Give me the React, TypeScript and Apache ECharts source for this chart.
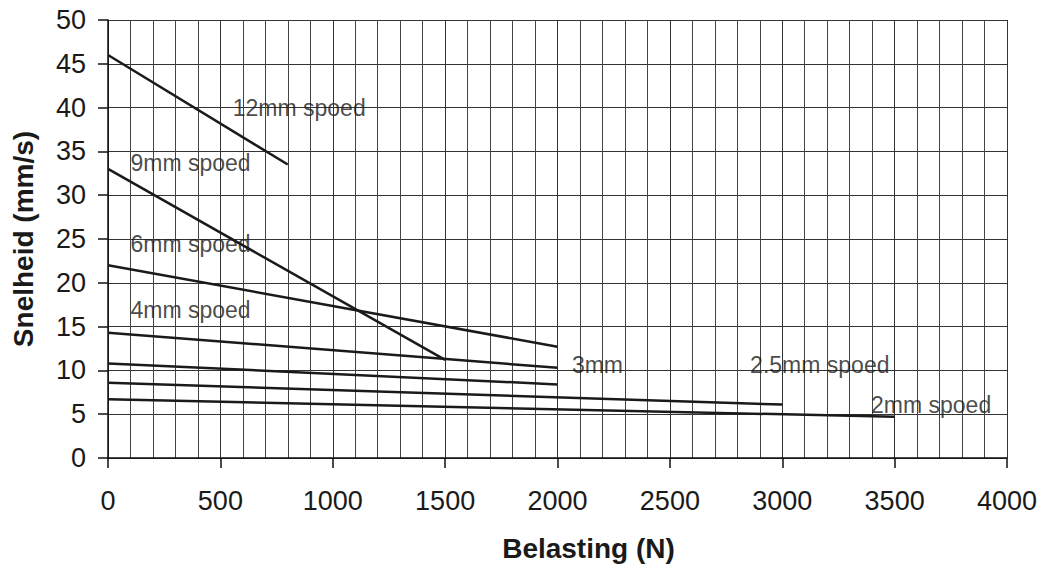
import React, { useEffect, useRef } from "react";
import * as echarts from "echarts";

const seriesNames = ["12mm", "9mm", "6mm", "4mm", "3mm", "2.5mm", "2mm"];
const seriesLoads = [
  [0, 800],
  [0, 1500],
  [0, 2000],
  [0, 2000],
  [0, 2000],
  [0, 3000],
  [0, 3500],
];
const seriesSpeeds = [
  [46, 33.5],
  [33, 11.2],
  [22, 12.7],
  [14.3, 10.3],
  [10.8, 8.4],
  [8.6, 6.1],
  [6.7, 4.7],
];

const labelTexts = ["12mm spoed", "9mm spoed", "6mm spoed", "4mm spoed", "3mm", "2.5mm spoed", "2mm spoed"];
const labelX = [555, 100, 100, 100, 2064, 2857, 3395];
const labelY = [40.0, 33.7, 24.4, 16.9, 10.6, 10.6, 6.05];

const FONT = "'Liberation Sans', Arial, Helvetica, sans-serif";

export default function App() {
  const ref = useRef<HTMLDivElement>(null);
  useEffect(() => {
    if (!ref.current) return;
    const chart = echarts.init(ref.current, undefined, { renderer: "svg" });
    const lineSeries = seriesNames.map((name, i) => ({
      name,
      type: "line",
      data: seriesLoads[i].map((x, j) => [x, seriesSpeeds[i][j]]),
      symbol: "none",
      lineStyle: { color: "#1a1a1a", width: 2.5 },
      z: 5,
    }));
    chart.setOption({
      animation: false,
      backgroundColor: "#ffffff",
      textStyle: { fontFamily: FONT },
      grid: { left: 108, right: 37, top: 20, bottom: 110, containLabel: false },
      xAxis: {
        type: "value",
        min: 0,
        max: 4000,
        interval: 500,
        name: "Belasting (N)",
        nameLocation: "middle",
        nameGap: 76,
        nameTextStyle: {
          fontSize: 28,
          fontWeight: "bold",
          color: "#1a1a1a",
          fontFamily: FONT,
          padding: [0, 0, 0, 62],
        },
        axisLine: { show: true, lineStyle: { color: "#111", width: 1.5 } },
        axisTick: { show: true, length: 10, lineStyle: { color: "#111", width: 1.5 } },
        axisLabel: {
          fontSize: 27,
          color: "#1a1a1a",
          margin: 29,
          fontFamily: FONT,
          formatter: (v: number) => String(v),
        },
        splitLine: { show: true, lineStyle: { color: "#333", width: 1 } },
        minorTick: { show: false, splitNumber: 5 },
        minorSplitLine: { show: true, lineStyle: { color: "#444", width: 1 } },
      },
      yAxis: {
        type: "value",
        min: 0,
        max: 50,
        interval: 5,
        name: "Snelheid (mm/s)",
        nameLocation: "middle",
        nameGap: 71,
        nameTextStyle: { fontSize: 28, fontWeight: "bold", color: "#1a1a1a", fontFamily: FONT },
        axisLine: { show: true, lineStyle: { color: "#111", width: 1.5 } },
        axisTick: { show: true, length: 10, lineStyle: { color: "#111", width: 1.5 } },
        axisLabel: {
          fontSize: 27,
          color: "#1a1a1a",
          margin: 22,
          fontFamily: FONT,
          formatter: (v: number) => String(v),
        },
        splitLine: { show: true, lineStyle: { color: "#333", width: 1 } },
      },
      series: [
        ...lineSeries,
        {
          name: "labels",
          type: "scatter",
          symbolSize: 0,
          data: labelTexts.map((t, i) => ({ value: [labelX[i], labelY[i]], name: t })),
          label: {
            show: true,
            position: "right",
            distance: 0,
            formatter: (p: any) => p.name,
            fontSize: 23,
            color: "#1a1a1a",
            fontFamily: FONT,
          },
          z: 10,
        },
      ],
    });
    return () => chart.dispose();
  }, []);
  return (
    <div
      ref={ref}
      style={{ position: "absolute", left: 0, top: 0, width: 1044, height: 568 }}
    />
  );
}
